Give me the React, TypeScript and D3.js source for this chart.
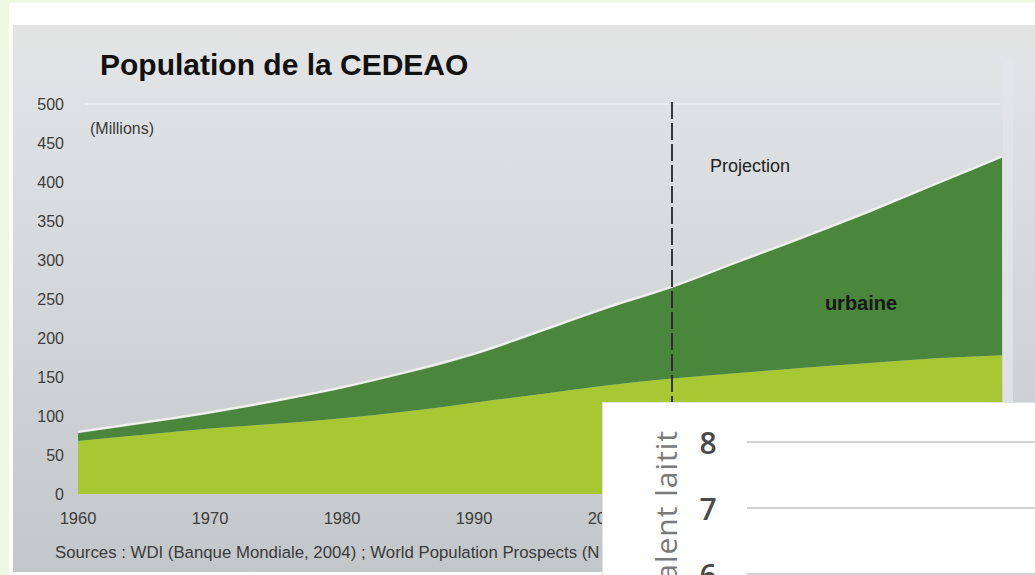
import React, { useEffect, useRef } from "react";
import * as d3 from "d3";

// population de la CEDEAO, millions
const years = [1960, 1965, 1970, 1975, 1980, 1985, 1990, 1995, 2000, 2005, 2010, 2015, 2020, 2025, 2030];
const rurale = [68, 76, 84, 90, 97, 106, 117, 128, 139, 148, 155, 162, 168, 174, 178];
const urbaine = [10, 14, 19, 28, 38, 49, 61, 79, 98, 116, 141, 166, 193, 222, 253];

const yTicks = [0, 50, 100, 150, 200, 250, 300, 350, 400, 450, 500];
const xTicks = [1960, 1970, 1980, 1990, 2000, 2010, 2020, 2030];
const projectionYear = 2005;

// the piece of another chart pasted over the lower right corner
const insetTicks = [8, 7, 6];

const W = 1035;
const H = 575;
const FONT = "'Liberation Sans', Arial, sans-serif";

const App = () => {
  const ref = useRef(null);

  useEffect(() => {
    const svg = d3.select(ref.current);
    svg.selectAll("*").remove();

    const x = d3.scaleLinear().domain([1960, 2030]).range([78, 1002]);
    const y = d3.scaleLinear().domain([0, 500]).range([494, 104]);

    const table = years.map((yr, i) => ({ year: yr, rurale: rurale[i], urbaine: urbaine[i] }));
    const series = d3.stack().keys(["rurale", "urbaine"])(table);

    // background frame
    svg.append("rect").attr("width", W).attr("height", H).attr("fill", "#eef8e3");
    svg.append("rect").attr("x", 9).attr("y", 3).attr("width", W - 9).attr("height", H - 3).attr("fill", "#ffffff");

    const defs = svg.append("defs");
    const grad = defs.append("linearGradient").attr("id", "panel").attr("x1", 0).attr("y1", 0).attr("x2", 0).attr("y2", 1);
    grad.append("stop").attr("offset", "0%").attr("stop-color", "#e4e4e4");
    grad.append("stop").attr("offset", "6%").attr("stop-color", "#e2e3e4");
    grad.append("stop").attr("offset", "14%").attr("stop-color", "#dfe2e4");
    grad.append("stop").attr("offset", "50%").attr("stop-color", "#d4d7da");
    grad.append("stop").attr("offset", "100%").attr("stop-color", "#c4c7ca");

    // the inset hides everything right of x=603 below y=403
    defs.append("clipPath").attr("id", "uncovered")
      .append("rect").attr("x", 0).attr("y", 0).attr("width", 603).attr("height", H);

    svg.append("rect")
      .attr("x", 13).attr("y", 25)
      .attr("width", W - 13).attr("height", 547)
      .attr("fill", "url(#panel)");

    // faint top line of the plot
    svg.append("line")
      .attr("x1", 85).attr("x2", 1000)
      .attr("y1", y(500)).attr("y2", y(500))
      .attr("stroke", "#e9ebec").attr("stroke-width", 2);

    // light strip to the right of the plot
    svg.append("rect")
      .attr("x", 1003).attr("y", 60).attr("width", 10).attr("height", 470)
      .attr("fill", "#e2e5e8").attr("opacity", 0.8);

    const area = d3.area()
      .x(d => x(d.data.year))
      .y0(d => y(d[0]))
      .y1(d => y(d[1]))
      .curve(d3.curveMonotoneX);

    const topLine = d3.line()
      .x(d => x(d.data.year))
      .y(d => y(d[1]) - 1.5)
      .curve(d3.curveMonotoneX);

    svg.append("path")
      .datum(series[1])
      .attr("d", topLine)
      .attr("fill", "none")
      .attr("stroke", "#f1f4ec")
      .attr("stroke-width", 2);

    const colors = ["#a8c833", "#4a863b"];
    svg.selectAll("path.area")
      .data(series)
      .enter()
      .append("path")
      .attr("class", "area")
      .attr("d", area)
      .attr("fill", (d, i) => colors[i]);

    // projection marker
    svg.append("line")
      .attr("x1", x(projectionYear)).attr("x2", x(projectionYear))
      .attr("y1", 102).attr("y2", 403)
      .attr("stroke", "#262626")
      .attr("stroke-width", 1.8)
      .attr("stroke-dasharray", "17 4");

    // y axis labels
    svg.selectAll("text.ytick")
      .data(yTicks)
      .enter()
      .append("text")
      .attr("class", "ytick")
      .attr("x", 64)
      .attr("y", d => y(d))
      .attr("text-anchor", "end")
      .attr("dominant-baseline", "central")
      .style("font-family", FONT)
      .style("font-size", "16px")
      .style("fill", "#3c3c3c")
      .text(d => d);

    // x axis labels, the ones under the inset are clipped
    svg.append("g")
      .attr("clip-path", "url(#uncovered)")
      .selectAll("text.xtick")
      .data(xTicks.filter(d => x(d) - 18 < 603))
      .enter()
      .append("text")
      .attr("class", "xtick")
      .attr("x", d => x(d))
      .attr("y", 518)
      .attr("text-anchor", "middle")
      .attr("dominant-baseline", "central")
      .style("font-family", FONT)
      .style("font-size", "16.5px")
      .style("fill", "#3c3c3c")
      .text(d => d);

    svg.append("text")
      .attr("x", 100).attr("y", 75)
      .style("font-family", FONT)
      .style("font-size", "30px")
      .style("font-weight", "bold")
      .style("fill", "#111")
      .text("Population de la CEDEAO");

    svg.append("text")
      .attr("x", 90).attr("y", 134)
      .style("font-family", FONT)
      .style("font-size", "16px")
      .style("fill", "#3a3a3a")
      .text("(Millions)");

    svg.append("text")
      .attr("x", 710).attr("y", 172)
      .style("font-family", FONT)
      .style("font-size", "18px")
      .style("fill", "#222")
      .text("Projection");

    svg.append("text")
      .attr("x", 861).attr("y", 303)
      .attr("text-anchor", "middle")
      .attr("dominant-baseline", "central")
      .style("font-family", FONT)
      .style("font-size", "20px")
      .style("font-weight", "bold")
      .style("fill", "#171717")
      .text("urbaine");

    svg.append("g")
      .attr("clip-path", "url(#uncovered)")
      .append("text")
      .attr("x", 55).attr("y", 558)
      .style("font-family", FONT)
      .style("font-size", "16.8px")
      .style("fill", "#3a3a3a")
      .text("Sources : WDI (Banque Mondiale, 2004) ; World Population Prospects (N");

    // inset panel
    const inset = svg.append("g");
    const iy = d3.scaleLinear().domain([6, 8]).range([574, 442]);

    inset.append("rect")
      .attr("x", 602).attr("y", 402)
      .attr("width", W - 602).attr("height", H - 402)
      .attr("fill", "#e2e2e2");
    inset.append("rect")
      .attr("x", 603).attr("y", 403)
      .attr("width", W - 603).attr("height", H - 403)
      .attr("fill", "#ffffff");

    inset.selectAll("line.grid")
      .data(insetTicks)
      .enter()
      .append("line")
      .attr("class", "grid")
      .attr("x1", 747).attr("x2", W)
      .attr("y1", d => iy(d)).attr("y2", d => iy(d))
      .attr("stroke", "#c4c4c4")
      .attr("stroke-width", 1.5);

    inset.selectAll("text.itick")
      .data(insetTicks)
      .enter()
      .append("text")
      .attr("class", "itick")
      .attr("x", 708)
      .attr("y", d => iy(d))
      .attr("text-anchor", "middle")
      .attr("dominant-baseline", "central")
      .style("font-family", "'Open Sans', sans-serif")
      .style("font-size", "30px")
      .style("font-weight", 600)
      .style("fill", "#4a4a4a")
      .text(d => d);

    inset.append("text")
      .attr("transform", "translate(677,430) rotate(-90)")
      .attr("text-anchor", "end")
      .style("font-family", "'Open Sans', sans-serif")
      .style("font-size", "30px")
      .style("letter-spacing", "1px")
      .style("fill", "#7a7a7a")
      .text("alent laitit");
  }, []);

  return (
    <svg
      ref={ref}
      width={W}
      height={H}
      style={{ position: "absolute", left: 0, top: 0 }}
    />
  );
};

export default App;
